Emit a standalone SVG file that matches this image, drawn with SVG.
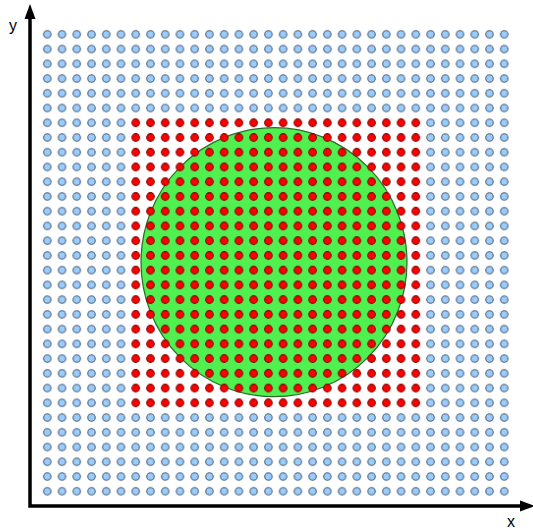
<svg xmlns="http://www.w3.org/2000/svg" width="533" height="530" viewBox="0 0 533 530">
<style>
.lbl{font-family:"Liberation Sans",Arial,sans-serif;font-size:16px;fill:#000}
.axis{stroke:#000;stroke-width:3.5;fill:none}
</style>
<defs>
<pattern id="blueDots" patternUnits="userSpaceOnUse" x="39.93" y="26.93" width="14.74" height="14.74">
<circle cx="7.37" cy="7.37" r="3.7" fill="#99ccff" stroke="#4f5f70" stroke-width="1.1"/>
</pattern>
<pattern id="redDots" patternUnits="userSpaceOnUse" x="39.93" y="26.93" width="14.74" height="14.74">
<circle cx="7.37" cy="7.37" r="3.8" fill="#ff0000" stroke="#7a0000" stroke-width="1"/>
</pattern>
</defs>
<rect width="533" height="530" fill="#fff"/>
<g id="grid">
<rect x="39.93" y="26.93" width="471.68" height="471.68" fill="url(#blueDots)"/>
<rect x="128.37" y="115.37" width="294.8" height="294.8" fill="#fff"/>
</g>
<g id="disk">
<ellipse cx="274" cy="262.2" rx="133" ry="134.5" fill="#4ff04f" stroke="#2a6a2a" stroke-width="1.2"/>
</g>
<g id="redBlock">
<rect x="128.37" y="115.37" width="294.8" height="294.8" fill="url(#redDots)"/>
</g>
<g id="connectors">
<path class="axis" d="M30,17 V506 H521"/>
<polygon points="30,4 24.5,19 35.5,19" fill="#000"/>
<polygon points="535,506 520,500.5 520,511.5" fill="#000"/>
</g>
<g id="labels">
<text class="lbl" x="9" y="31">y</text>
<text class="lbl" x="507" y="527">x</text>
</g>
</svg>
